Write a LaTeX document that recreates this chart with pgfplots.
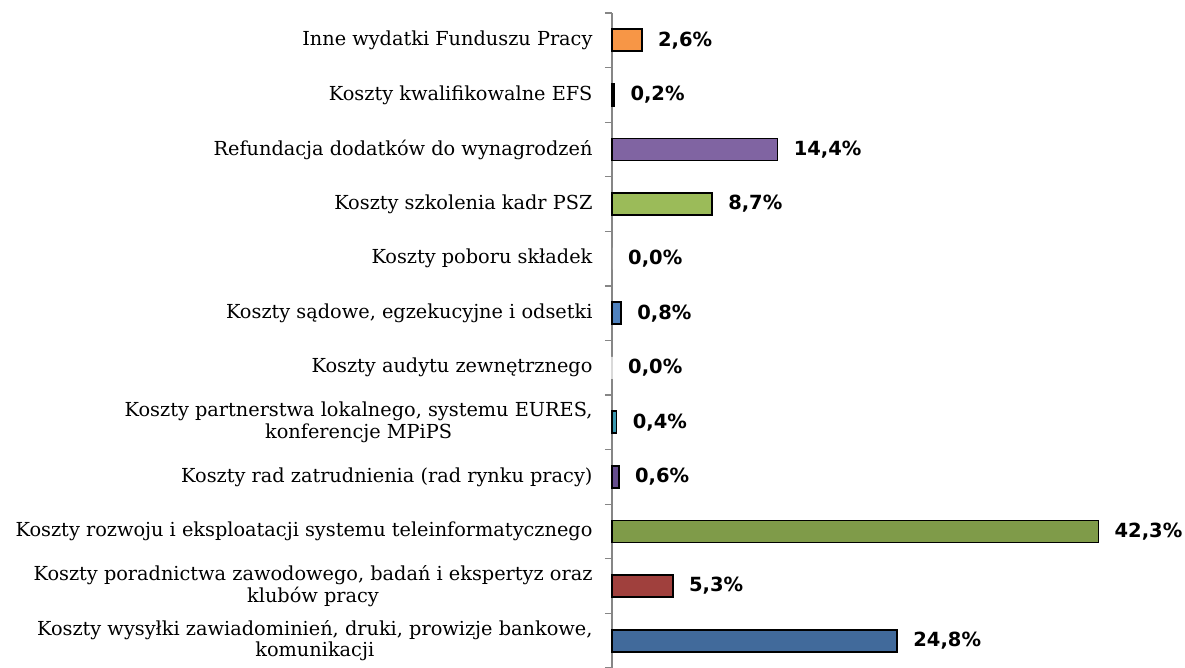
\documentclass[border=0pt]{standalone}
\usepackage{fontspec}
\setmainfont{DejaVu Serif}
\newfontfamily\valfont{DejaVu Sans}
\usepackage{pgfplots}
\pgfplotsset{compat=1.18}
\definecolor{c0}{HTML}{416A9B}
\definecolor{c1}{HTML}{A0403D}
\definecolor{c2}{HTML}{7F9B49}
\definecolor{c3}{HTML}{654D8D}
\definecolor{c4}{HTML}{3A97AE}
\definecolor{c6}{HTML}{4F81BD}
\definecolor{c8}{HTML}{9BBB59}
\definecolor{c9}{HTML}{8064A2}
\definecolor{c10}{HTML}{4BACC6}
\definecolor{c11}{HTML}{F79646}
\definecolor{axgray}{HTML}{868686}
\begin{document}
\begin{tikzpicture}
\begin{axis}[
 scale only axis, width=572.7bp, height=655bp,
 xmin=0, xmax=49.8, ymin=-0.5, ymax=11.5,
 xbar, bar width=22bp,
 axis x line=none, axis y line*=left,
 axis line style={draw=axgray, line width=1.3bp},
 ytick={0,...,11},
 yticklabels={{Koszty wysyłki zawiadominień, druki, prowizje bankowe,\\komunikacji},
  {Koszty poradnictwa zawodowego, badań i ekspertyz oraz\\klubów pracy},
  {Koszty rozwoju i eksploatacji systemu teleinformatycznego},
  {Koszty rad zatrudnienia (rad rynku pracy)},
  {Koszty partnerstwa lokalnego, systemu EURES,\\konferencje MPiPS},
  {Koszty audytu zewnętrznego},
  {Koszty sądowe, egzekucyjne i odsetki},
  {Koszty poboru składek},
  {Koszty szkolenia kadr PSZ},
  {Refundacja dodatków do wynagrodzeń},
  {Koszty kwalifikowalne EFS},
  {Inne wydatki Funduszu Pracy}},
 major tick length=0pt,
 minor ytick={-0.5,0.5,...,11.5},
 minor tick length=7bp, tick align=outside,
 minor tick style={draw=axgray, line width=1.3bp},
 yticklabel style={align=center, font=\fontsize{19.3bp}{21.5bp}\selectfont, xshift=-16bp},
 nodes near coords={\pgfmathprintnumber[assume math mode=true,fixed,fixed zerofill,precision=1,use comma]{\pgfplotspointmeta}\%},
 nodes near coords style={font=\valfont\bfseries\fontsize{19.5bp}{21bp}\selectfont, anchor=west, xshift=12bp, text=black},
 every axis plot/.append style={bar shift=0pt, draw=black, line width=1.8bp},
 clip=false,
]
\addplot[fill=c0] coordinates {(24.8,0)};
\addplot[fill=c1] coordinates {(5.3,1)};
\addplot[fill=c2] coordinates {(42.3,2)};
\addplot[fill=c3] coordinates {(0.6,3)};
\addplot[fill=c4] coordinates {(0.4,4)};
\addplot[fill=white, draw=gray!30] coordinates {(0.0,5)};
\addplot[fill=c6] coordinates {(0.8,6)};
\addplot[fill=white, draw=none] coordinates {(0.0,7)};
\addplot[fill=c8] coordinates {(8.7,8)};
\addplot[fill=c9] coordinates {(14.4,9)};
\addplot[fill=c10] coordinates {(0.2,10)};
\addplot[fill=c11] coordinates {(2.6,11)};
\end{axis}
\pgfresetboundingbox
\path (-612bp,0) rectangle (573bp,668bp);
\end{tikzpicture}
\end{document}
